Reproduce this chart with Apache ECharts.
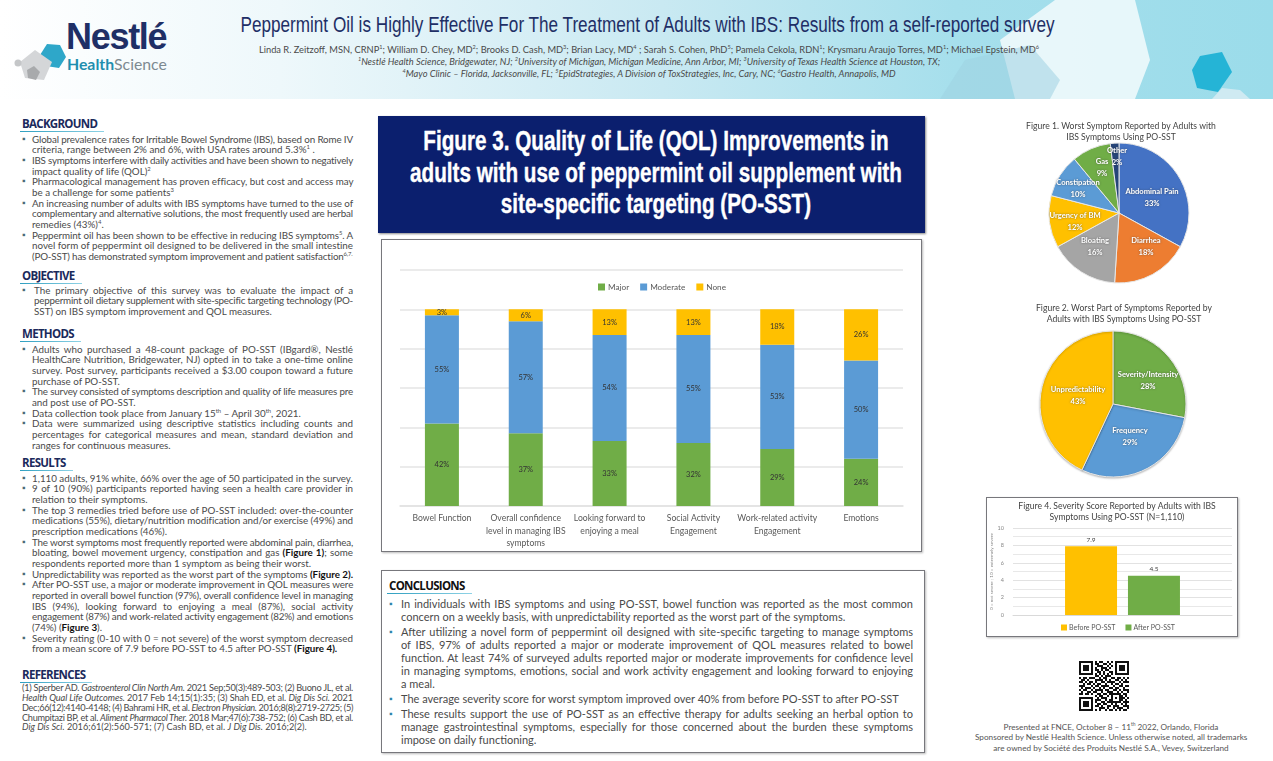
<!DOCTYPE html>
<html lang="en">
<head>
<meta charset="UTF-8">
<title>Peppermint Oil QOL poster</title>
<script src="https://cdn.jsdelivr.net/npm/echarts@6/dist/echarts.min.js"></script>
<style>
html,body{margin:0;padding:0;background:#fff;}
body{width:1273px;height:761px;overflow:hidden;position:relative;font-family:Lato,"Open Sans",sans-serif;color:#4a4a4a;}
.abs{position:absolute;}
.head{position:absolute;font:bold 11.5px "Open Sans",sans-serif;letter-spacing:-.7px;color:#1b2a5c;line-height:13px;padding-right:7px;}
.head:after{content:"";position:absolute;left:-2px;right:0;bottom:-2px;height:1.5px;background:linear-gradient(90deg,#2f9fc0,#8fd3e6);}
.ln{white-space:nowrap;text-align:justify;text-align-last:justify;}
.ln.last{text-align-last:left;}
.item{position:relative;}
.item:before{content:"\25AA";position:absolute;left:0;top:0;color:#4a6b78;font-size:9px;}
#conclusions .item{margin-bottom:2px;}
#conclusions .item:before{left:-12px;color:#2f86ab;}
sup{font-size:60%;line-height:0;}
b{color:#111;}
.box{position:absolute;box-sizing:border-box;border:1.5px solid #77777c;box-shadow:1px 1px 2px #bbb;background:#fff;}
</style>
</head>
<body>
<div class="abs" style="left:0;top:0;width:1273px;height:99px;background:linear-gradient(90deg,#fff 0,#eef8fb 22%,#c9e9f2 52%,#a6dfec 75%,#9bdcea 100%);"></div>
<svg class="abs" style="left:0;top:0;" width="1273" height="99">
	<polygon points="1015,99 1000,40 1055,0 1135,0 1150,60 1135,99" fill="#fff" opacity=".75"/>
	<polygon points="940,99 965,60 1030,45 1060,80 1050,99" fill="#9fd2e2" opacity=".55"/>
	<polygon points="1200,56 1222,52 1232,72 1218,92 1197,88 1192,70" fill="#25b4d6"/>
	<polygon points="1212,99 1222,88 1240,90 1250,99" fill="#cfeaf2"/>
	<polygon points="60,45 66,57 59,68 46,66 40,55 47,44" fill="#2ea7c9"/>
	<polygon points="35,50 52,62 44,80 25,78 20,62" fill="#d4d6d8"/>
	<polygon points="34,66 40,72 36,80 28,78 27,70" fill="#a8aaac"/>
	<circle cx="18" cy="63" r="3.5" fill="#c4c6c8"/>
</svg>
<div class="abs" style="left:66px;top:16px;font:bold 36px 'Liberation Sans',sans-serif;letter-spacing:-1.3px;color:#1f2f66;">Nestlé</div>
<div class="abs" style="left:67px;top:54px;font:15.8px Lato,sans-serif;color:#7d8a91;"><span style="color:#1f8eae;font-weight:bold;">Health</span>Science</div>
<div class="abs" id="title" style="left:0;width:1295px;text-align:center;top:12px;font:22.5px 'Liberation Sans',sans-serif;color:#1f2f66;white-space:nowrap;transform:scaleX(.762);"></div>
<div class="abs" id="authors" style="left:0;width:1298px;text-align:center;top:44px;font-size:9.3px;line-height:11.8px;color:#4a4a4a;white-space:nowrap;"></div>

<div id="leftcol"></div>

<div class="abs" style="left:378px;top:116px;width:547px;height:117px;background:#0b1f6e;box-shadow:1px 1px 2px #888;"></div>
<div class="abs" id="figtitle" style="left:106px;top:126px;width:1100px;text-align:center;font:bold 27px/31.5px 'Liberation Sans',sans-serif;color:#fff;-webkit-text-stroke:.4px #fff;white-space:nowrap;transform:scaleX(.766);"></div>

<div class="box" style="left:381px;top:239px;width:541px;height:313px;"></div>
<div class="box" style="left:381px;top:570px;width:544px;height:183px;"></div>
<div class="head" style="left:389px;top:579px;color:#111;" id="conhead">CONCLUSIONS</div>
<div id="conclusions" class="abs" style="left:401px;top:597px;width:512px;font-size:11px;line-height:13px;"></div>

<div class="box" style="left:986px;top:497px;width:252px;height:140px;border-width:1px;"></div>
<svg class="abs" id="qr" style="left:1079px;top:661px;" width="50" height="50"></svg>
<div class="abs" id="footer" style="left:975px;width:272px;top:722px;text-align:center;font-size:8.2px;line-height:10.3px;color:#555;white-space:nowrap;"></div>

<div id="main" class="abs" style="left:0;top:0;width:1273px;height:761px;"></div>

<script>
// figure 3
var qolCategories = ["Bowel Function", "Overall confidence\nlevel in managing IBS\nsymptoms", "Looking forward to\nenjoying a meal", "Social Activity\nEngagement", "Work-related activity\nEngagement", "Emotions"];
var qolMajor = [42, 37, 33, 32, 29, 24];
var qolModerate = [55, 57, 54, 55, 53, 50];
var qolNone = [3, 6, 13, 13, 18, 26];

// figure 1
var symptomNames = ["Abdominal Pain", "Diarrhea", "Bloating", "Urgency of BM", "Constipation", "Gas", "Other"];
var symptomValues = [33, 18, 16, 12, 10, 9, 2];

// figure 2
var worstNames = ["Severity/Intensity", "Frequency", "Unpredictability"];
var worstValues = [28, 29, 43];

// figure 4
var severityBefore = [7.9];
var severityAfter = [4.5];

var symptomLabelPos = [[1152,198],[1146,247],[1095,247],[1075,222],[1078,189],[1102,168],[1117,157]];
var worstLabelPos = [[1148,381],[1130,437],[1078,396]];

var backgroundText = [
	["Global prevalence rates for Irritable Bowel Syndrome (IBS), based on Rome IV", "criteria, range between 2% and 6%, with USA rates around 5.3%<sup>1</sup> ."],
	["IBS symptoms interfere with daily activities and have been shown to negatively", "impact quality of life (QOL)<sup>2</sup>"],
	["Pharmacological management has proven efficacy, but cost and access may", "be a challenge for some patients<sup>3</sup>"],
	["An increasing number of adults with IBS symptoms have turned to the use of", "complementary and alternative solutions, the most frequently used are herbal", "remedies (43%)<sup>4</sup>."],
	["Peppermint oil has been shown to be effective in reducing IBS symptoms<sup>5</sup>. A", "novel form of peppermint oil designed to be delivered in the small intestine", "(PO-SST) has demonstrated symptom improvement and patient satisfaction<sup>6,7.</sup>"]
];
var objectiveText = [
	["The primary objective of this survey was to evaluate the impact of a", "peppermint oil dietary supplement with site-specific targeting technology (PO-", "SST) on IBS symptom improvement and QOL measures."]
];
var methodsText = [
	["Adults who purchased a 48-count package of PO-SST (IBgard®, Nestlé", "HealthCare Nutrition, Bridgewater, NJ) opted in to take a one-time online", "survey. Post survey, participants received a $3.00 coupon toward a future", "purchase of PO-SST."],
	["The survey consisted of symptoms description and quality of life measures pre", "and post use of PO-SST."],
	["Data collection took place from January 15<sup>th</sup> – April 30<sup>th</sup>, 2021."],
	["Data were summarized using descriptive statistics including counts and", "percentages for categorical measures and mean, standard deviation and", "ranges for continuous measures."]
];
var resultsText = [
	["1,110 adults, 91% white, 66%  over the age of 50 participated in the survey."],
	["9 of 10 (90%) participants reported having seen a health care provider in", "relation to their symptoms."],
	["The top 3 remedies tried before use of PO-SST included: over-the-counter", "medications (55%), dietary/nutrition modification and/or exercise (49%) and", "prescription medications (46%)."],
	["The worst symptoms most frequently reported were abdominal pain, diarrhea,", "bloating, bowel movement urgency, constipation and gas <b>(Figure 1)</b>; some", "respondents reported more than 1 symptom as being their worst."],
	["Unpredictability was reported as the worst part of the symptoms <b>(Figure 2).</b>"],
	["After PO-SST use, a major or moderate improvement in QOL measures were", "reported in overall bowel function (97%), overall confidence level in managing", "IBS (94%), looking forward to enjoying a meal (87%), social activity", "engagement (87%) and work-related activity engagement (82%) and emotions", "(74%) (<b>Figure 3</b>)."],
	["Severity rating (0-10 with 0 = not severe) of the worst symptom decreased", "from a mean score of 7.9 before PO-SST to 4.5 after PO-SST <b>(Figure 4).</b>"]
];
var referencesText = [
	"(1) Sperber AD. <i>Gastroenterol Clin North Am.</i> 2021 Sep;50(3):489-503; (2) Buono JL, et al.",
	"<i>Health Qual Life Outcomes.</i> 2017 Feb 14;15(1):35; (3) Shah ED, et al. <i>Dig Dis Sci.</i> 2021",
	"Dec;66(12):4140-4148; (4) Bahrami HR, et al. <i>Electron Physician.</i> 2016;8(8):2719-2725; (5)",
	"Chumpitazi BP, et al. <i>Aliment Pharmacol Ther.</i> 2018 Mar;47(6):738-752; (6) Cash BD, et al.",
	"<i>Dig Dis Sci.</i> 2016;61(2):560-571; (7) Cash BD, et al. <i>J Dig Dis.</i> 2016;2(2)."
];
var conclusionsText = [
	["In individuals with IBS symptoms and using PO-SST, bowel function was reported as the most common", "concern on a weekly basis, with unpredictability reported as the worst part of the symptoms."],
	["After utilizing a novel form of peppermint oil designed with site-specific targeting to manage symptoms", "of IBS, 97% of adults reported a major or moderate improvement of QOL measures related to bowel", "function. At least 74% of surveyed adults reported major or moderate improvements for confidence level", "in managing symptoms, emotions, social and work activity engagement and looking forward to enjoying", "a meal."],
	["The average severity score for worst symptom improved over 40% from before PO-SST to after PO-SST"],
	["These results support the use of PO-SST as an effective therapy for adults seeking an herbal option to", "manage gastrointestinal symptoms, especially for those concerned about the burden these symptoms", "impose on daily functioning."]
];

var qrRows = [
	"1111111010110010101111111","1000001011001101001000001","1011101001110010101011101","1011101010011101001011101",
	"1011101011010110001011101","1000001001101001101000001","1111111010101010101111111","0000000011010111000000000",
	"1011011100101100110110101","0110100011110101001101010","1101011010011011110010111","0010110101100100101101000",
	"1110001011011110010011011","0101110100101001101100100","1011001011110110011010111","0100110110010011100101001",
	"1101101001101101111110110","0000000010110010100011010","1111111001011100101011101","1000001011100101100011010",
	"1011101010011011111110111","1011101001101100101001010","1011101011010011011100111","1000001000111010010111001",
	"1111111010100101101010110"
];

document.getElementById("title").innerHTML = "Peppermint Oil is Highly Effective For The Treatment of Adults with IBS: Results from a self-reported survey";
document.getElementById("authors").innerHTML =
	"Linda R. Zeitzoff, MSN, CRNP<sup>1</sup>; William D. Chey, MD<sup>2</sup>; Brooks D. Cash, MD<sup>3</sup>; Brian Lacy, MD<sup>4</sup> ; Sarah S. Cohen, PhD<sup>5</sup>; Pamela Cekola, RDN<sup>1</sup>; Krysmaru Araujo Torres, MD<sup>1</sup>; Michael Epstein, MD<sup>6</sup><br>" +
	"<i><sup>1</sup>Nestlé Health Science, Bridgewater, NJ; <sup>2</sup>University of Michigan, Michigan Medicine, Ann Arbor, MI; <sup>3</sup>University of Texas Health Science at Houston, TX;<br>" +
	"<sup>4</sup>Mayo Clinic – Florida, Jacksonville, FL; <sup>5</sup>EpidStrategies, A Division of ToxStrategies, Inc, Cary, NC; <sup>6</sup>Gastro Health, Annapolis, MD</i>";
document.getElementById("figtitle").innerHTML = "Figure 3. Quality of Life (QOL) Improvements in<br>adults with use of peppermint oil supplement with<br>site-specific targeting (PO-SST)";
document.getElementById("footer").innerHTML = "Presented at  FNCE, October 8 – 11<sup>th</sup> 2022, Orlando, Florida<br>Sponsored by Nestlé Health Science. Unless otherwise noted, all trademarks<br>are owned by Société des Produits Nestlé S.A., Vevey, Switzerland";

function itemsHtml(items, indent) {
	return items.map(function (lines) {
		var html = '<div class="item" style="padding-left:' + indent + 'px;">';
		lines.forEach(function (t, i) {
			html += '<div class="ln' + (i == lines.length - 1 ? ' last' : '') + '">' + t + '</div>';
		});
		return html + "</div>";
	}).join("");
}

function addSection(name, headY, textY, items, indent) {
	var col = document.getElementById("leftcol");
	col.insertAdjacentHTML("beforeend",
		'<div class="head" style="left:22px;top:' + (headY - 7) + 'px;">' + name + '</div>' +
		'<div class="abs" style="left:22px;top:' + (textY - 5.3) + 'px;width:331px;font-size:9.8px;line-height:10.67px;">' + itemsHtml(items, indent) + '</div>');
}
addSection("BACKGROUND", 124, 139, backgroundText, 10);
addSection("OBJECTIVE", 276, 290, objectiveText, 12);
addSection("METHODS", 334, 349, methodsText, 10);
addSection("RESULTS", 463, 478, resultsText, 10);

document.getElementById("leftcol").insertAdjacentHTML("beforeend",
	'<div class="head" style="left:22px;top:668px;">REFERENCES</div>' +
	'<div class="abs" style="left:22px;top:683px;width:331px;font-size:9.2px;line-height:9.85px;">' +
	referencesText.map(function (t, i) { return '<div class="ln' + (i == 4 ? ' last' : '') + '">' + t + '</div>'; }).join("") + '</div>');

document.getElementById("conclusions").innerHTML = itemsHtml(conclusionsText, 0);

// squeeze lines that are wider than their column
document.querySelectorAll(".ln").forEach(function (ln) {
	var r = document.createRange();
	r.selectNodeContents(ln);
	var w = r.getBoundingClientRect().width;
	if (w > ln.clientWidth) {
		ln.style.letterSpacing = -(w - ln.clientWidth) / ln.textContent.length + "px";
	}
});

var qrHtml = "";
qrRows.forEach(function (row, y) {
	row.split("").forEach(function (c, x) {
		if (c == "1") qrHtml += '<rect x="' + x * 2 + '" y="' + y * 2 + '" width="2" height="2" fill="#111"/>';
	});
});
document.getElementById("qr").innerHTML = qrHtml;

var chartFont = 'Lato, "Open Sans", sans-serif';
function stackSeries(name, data, color) {
	return {
		name: name,
		type: "bar",
		stack: "qol",
		barWidth: 34,
		data: data,
		itemStyle: { color: color },
		label: { show: true, position: "inside", formatter: "{c}%", fontSize: 7.5, color: "#333", fontFamily: chartFont }
	};
}
function pieLabel(size) {
	return { show: true, position: "inside", formatter: "{b}\n{c}%", color: "#fff", fontSize: size, fontWeight: "bold", lineHeight: 12, fontFamily: chartFont, textShadowColor: "rgba(60,60,60,.7)", textShadowBlur: 2 };
}
function pieData(names, values) {
	return names.map(function (n, i) { return { name: n, value: values[i] }; });
}
function placeLabels(positions) {
	return function (params) {
		var p = positions[params.dataIndex];
		return { x: p[0], y: p[1], align: "center", verticalAlign: "middle" };
	};
}
var titleStyle = { fontSize: 8.6, fontWeight: "normal", color: "#444", lineHeight: 10.5, fontFamily: chartFont };

var myChart = echarts.init(document.getElementById("main"));
myChart.setOption({
	animation: false,
	backgroundColor: "transparent",
	title: [
		{ text: "Figure 1. Worst Symptom Reported by Adults with\nIBS Symptoms Using PO-SST", left: 1116, top: 116, textAlign: "center", textStyle: titleStyle },
		{ text: "Figure 2. Worst Part of Symptoms Reported by\nAdults with IBS Symptoms Using PO-SST", left: 1119, top: 298, textAlign: "center", textStyle: titleStyle },
		{ text: "Figure 4. Severity Score Reported by Adults with IBS\nSymptoms Using PO-SST (N=1,110)", left: 1112, top: 496, textAlign: "center", textStyle: titleStyle }
	],
	legend: [
		{ data: ["Major", "Moderate", "None"], left: 593, top: 278, itemWidth: 7, itemHeight: 7, itemGap: 11, icon: "rect", textStyle: { fontSize: 8.2, color: "#595959", fontFamily: chartFont, padding: [0, 0, 0, -2] } },
		{ data: ["Before PO-SST", "After PO-SST"], left: 1056, top: 619, itemWidth: 6, itemHeight: 6, itemGap: 10, icon: "rect", textStyle: { fontSize: 7, color: "#595959", fontFamily: chartFont, padding: [0, 0, 0, -3] } }
	],
	grid: [
		{ left: 400, top: 270, width: 503, height: 236 },
		{ left: 1013, top: 528, width: 219, height: 87 }
	],
	xAxis: [
		{
			gridIndex: 0, type: "category", data: qolCategories,
			axisLine: { lineStyle: { color: "#e2e2e2", width: 1.5 } }, axisTick: { show: false },
			axisLabel: { interval: 0, fontSize: 8.6, lineHeight: 12.5, color: "#595959", margin: 6, fontFamily: chartFont }
		},
		{
			gridIndex: 1, type: "category", data: [""],
			axisLine: { lineStyle: { color: "#d9d9d9" } }, axisTick: { show: false }, axisLabel: { show: false }
		}
	],
	yAxis: [
		{
			gridIndex: 0, type: "value", min: 0, max: 120, interval: 20,
			axisLabel: { show: false }, axisLine: { show: false }, axisTick: { show: false },
			splitLine: { lineStyle: { color: "#e4e4e4", width: 1.5 } }
		},
		{
			gridIndex: 1, type: "value", min: 0, max: 10, interval: 2,
			name: "0 = not severe ; 10 = extremely severe", nameLocation: "middle", nameGap: 12,
			nameTextStyle: { fontSize: 4.6, color: "#888", fontFamily: chartFont },
			axisLabel: { fontSize: 5.5, color: "#888", margin: 9, fontFamily: chartFont },
			axisLine: { show: false }, axisTick: { show: false },
			minorTick: { show: false, splitNumber: 2 },
			splitLine: { lineStyle: { color: "#e2e2e2" } },
			minorSplitLine: { show: true, lineStyle: { color: "#e8e8e8" } }
		}
	],
	series: [
		stackSeries("Major", qolMajor, "#70AD47"),
		stackSeries("Moderate", qolModerate, "#5B9BD5"),
		stackSeries("None", qolNone, "#FFC000"),
		{
			name: "Before PO-SST", type: "bar", xAxisIndex: 1, yAxisIndex: 1, barWidth: 52, barGap: "21%",
			data: severityBefore, itemStyle: { color: "#FFC000" },
			label: { show: true, position: "top", fontSize: 6.5, color: "#404040", distance: 3, fontFamily: chartFont }
		},
		{
			name: "After PO-SST", type: "bar", xAxisIndex: 1, yAxisIndex: 1, barWidth: 52,
			data: severityAfter, itemStyle: { color: "#70AD47" },
			label: { show: true, position: "top", fontSize: 6.5, color: "#404040", distance: 3, fontFamily: chartFont }
		},
		{
			name: "Worst Symptom", type: "pie", center: [1119, 213], radius: [0, 70],
			data: pieData(symptomNames, symptomValues),
			color: ["#4472C4", "#ED7D31", "#A5A5A5", "#FFC000", "#5B9BD5", "#70AD47", "#264478"],
			itemStyle: { borderColor: "#e6e6e6", borderWidth: 1 },
			label: pieLabel(7.6), labelLine: { show: false },
			labelLayout: placeLabels(symptomLabelPos),
			emphasis: { disabled: true }
		},
		{
			name: "Worst Part", type: "pie", center: [1113, 404], radius: [0, 73],
			data: pieData(worstNames, worstValues),
			color: ["#70AD47", "#5B9BD5", "#FFC000"],
			itemStyle: { borderColor: "#e6e6e6", borderWidth: 1, shadowColor: "rgba(0,0,0,.25)", shadowBlur: 2, shadowOffsetY: 1 },
			label: pieLabel(7.6), labelLine: { show: false },
			labelLayout: placeLabels(worstLabelPos),
			emphasis: { disabled: true }
		}
	]
});
</script>
</body>
</html>
